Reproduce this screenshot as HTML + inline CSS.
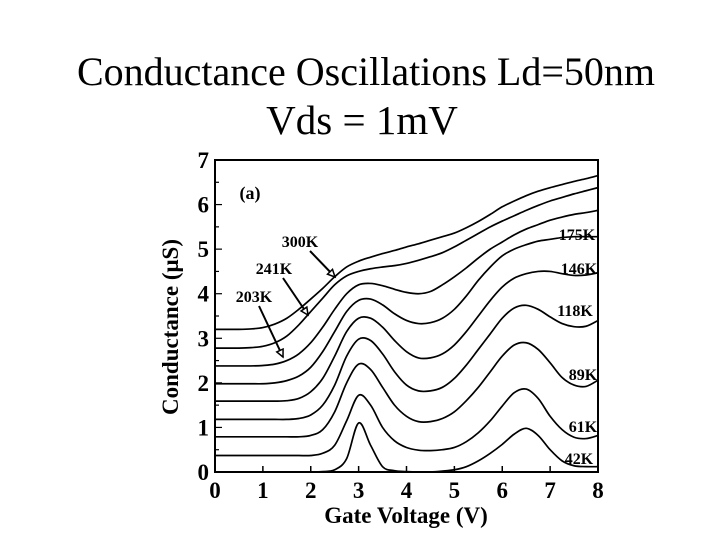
<!DOCTYPE html>
<html><head><meta charset="utf-8"><style>
body{margin:0;background:#fff;width:720px;height:540px;overflow:hidden}
svg text{font-family:"Liberation Serif",serif}
</style></head><body>
<svg id="c" width="720" height="540">
<text x="366" y="85" font-size="40" text-anchor="middle">Conductance Oscillations Ld=50nm</text>
<text x="362" y="134" font-size="41" text-anchor="middle">Vds = 1mV</text>
<g id="g"></g>
</svg>
<script>
const xs=[];for(let i=0;i<=32;i++)xs.push(i*0.25);
const s42=[0,0,0,0,0,0,0,0,0,0.01,0.05,0.3,1.1,0.6,0.12,0.03,0.01,0,0,0.02,0.05,0.12,0.25,0.42,0.62,0.85,0.98,0.82,0.5,0.25,0.14,0.12,0.12];
const s61=[0.37,0.37,0.37,0.37,0.37,0.37,0.37,0.37,0.37,0.42,0.6,1.15,1.72,1.5,1.0,0.7,0.55,0.49,0.48,0.5,0.55,0.68,0.88,1.15,1.48,1.78,1.86,1.65,1.25,0.95,0.78,0.75,0.82];
const s89=[0.79,0.79,0.79,0.79,0.79,0.79,0.79,0.79,0.82,0.95,1.35,2.0,2.42,2.3,1.9,1.5,1.25,1.13,1.13,1.2,1.35,1.6,1.9,2.25,2.6,2.85,2.9,2.75,2.45,2.12,1.95,1.92,2.06];
const s118=[1.18,1.18,1.18,1.18,1.18,1.18,1.18,1.2,1.28,1.5,1.95,2.6,2.98,2.95,2.65,2.25,1.95,1.82,1.82,1.9,2.1,2.4,2.75,3.1,3.45,3.68,3.74,3.65,3.48,3.33,3.26,3.27,3.4];
const s146=[1.59,1.59,1.59,1.59,1.59,1.59,1.6,1.65,1.8,2.1,2.6,3.15,3.45,3.45,3.25,2.95,2.7,2.56,2.56,2.65,2.85,3.15,3.5,3.85,4.15,4.35,4.45,4.5,4.5,4.45,4.41,4.42,4.47];
const s175=[1.98,1.98,1.98,1.98,1.98,2.0,2.05,2.15,2.35,2.7,3.15,3.6,3.85,3.88,3.75,3.55,3.4,3.33,3.35,3.45,3.65,3.95,4.3,4.6,4.85,5.0,5.1,5.18,5.22,5.26,5.28,5.28,5.28];
const s203=[2.38,2.38,2.38,2.38,2.39,2.42,2.5,2.65,2.9,3.25,3.65,4.0,4.2,4.23,4.18,4.1,4.03,4.0,4.05,4.2,4.38,4.58,4.8,5.0,5.16,5.32,5.45,5.55,5.65,5.72,5.78,5.82,5.87];
const s241=[2.78,2.78,2.78,2.79,2.82,2.9,3.05,3.3,3.6,3.9,4.2,4.4,4.5,4.56,4.6,4.63,4.68,4.75,4.83,4.92,5.05,5.2,5.35,5.5,5.63,5.75,5.87,5.98,6.08,6.16,6.24,6.31,6.38];
const s300=[3.2,3.2,3.2,3.21,3.24,3.32,3.45,3.65,3.88,4.12,4.38,4.6,4.73,4.82,4.9,4.97,5.05,5.12,5.2,5.28,5.36,5.48,5.62,5.78,5.95,6.08,6.2,6.3,6.38,6.45,6.52,6.58,6.65];
const series=[s42,s61,s89,s118,s146,s175,s203,s241,s300];
const seriesNames=['42K','61K','89K','118K','146K','175K','203K','241K','300K'];
const xTicks=[0,1,2,3,4,5,6,7,8];
const yTicks=[0,1,2,3,4,5,6,7];
const X0=215,X1=598,Y0=472,Y1=160;
const xp=v=>X0+(X1-X0)*v/8, yp=v=>Y0-(Y0-Y1)*v/7;
const g=document.getElementById('g'),NS='http://www.w3.org/2000/svg';
function mk(t,a,p){const e=document.createElementNS(NS,t);for(const k in a)e.setAttribute(k,a[k]);(p||g).appendChild(e);return e;}
const fr=mk('rect',{x:X0,y:Y1,width:X1-X0,height:Y0-Y1,fill:'none',stroke:'#000','stroke-width':2});


xTicks.forEach(t=>{
 const l=mk('line',{x1:xp(t),x2:xp(t),y1:Y0,y2:Y0-6,stroke:'#000','stroke-width':1.5});
 
 
 const tx=mk('text',{x:xp(t),y:498,'font-size':23,'font-weight':'bold','text-anchor':'middle'});tx.textContent=t;
 
 
});
for(let v=0;v<=7;v+=0.5){
 const l=mk('line',{x1:X0,x2:X0+(v%1?4:7),y1:yp(v),y2:yp(v),stroke:'#000','stroke-width':1.2});
 
 
}
yTicks.forEach(t=>{
 const tx=mk('text',{x:209,y:yp(t)+8,'font-size':23,'font-weight':'bold','text-anchor':'end'});tx.textContent=t;
 
 
});
series.forEach((s,k)=>{
 const P=s.map((v,i)=>[xp(xs[i]),yp(v)]);
 let d='M'+P[0][0]+','+P[0][1];
 for(let i=0;i<P.length-1;i++){const p0=P[Math.max(0,i-1)],p1=P[i],p2=P[i+1],p3=P[Math.min(P.length-1,i+2)];
  d+=` C${p1[0]+(p2[0]-p0[0])/6},${p1[1]+(p2[1]-p0[1])/6} ${p2[0]-(p3[0]-p1[0])/6},${p2[1]-(p3[1]-p1[1])/6} ${p2[0]},${p2[1]}`;}
 const p=mk('path',{d:d,fill:'none',stroke:'#000','stroke-width':1.7});
 
 
});
const labs=[['175K',577,240],['146K',579,274],['118K',575,316],['89K',583,380],['61K',583,432],['42K',579,464]];
labs.forEach(a=>{const t=mk('text',{x:a[1],y:a[2],'font-size':16,'font-weight':'bold','text-anchor':'middle'});t.textContent=a[0];
 
 });
const arr=[['300K',300,247,310,251,335,277],['241K',274,274,283,278,308,315],['203K',254,302,259,306,283,357]];
arr.forEach(a=>{const t=mk('text',{x:a[1],y:a[2],'font-size':16,'font-weight':'bold','text-anchor':'middle'});t.textContent=a[0];
 
 
 const l=mk('line',{x1:a[3],y1:a[4],x2:a[5],y2:a[6],stroke:'#000','stroke-width':2});
 
 
 const ang=Math.atan2(a[6]-a[4],a[5]-a[3]),L=8,w=0.45;
 const h=mk('polygon',{points:`${a[5]},${a[6]} ${a[5]-L*Math.cos(ang-w)},${a[6]-L*Math.sin(ang-w)} ${a[5]-L*Math.cos(ang+w)},${a[6]-L*Math.sin(ang+w)}`,fill:'#fff',stroke:'#000','stroke-width':1.5});
 
 
});
const ta=mk('text',{x:250,y:199,'font-size':18,'font-weight':'bold','text-anchor':'middle'});ta.textContent='(a)';


const xt=mk('text',{x:406,y:523,'font-size':23,'font-weight':'bold','text-anchor':'middle'});xt.textContent='Gate Voltage  (V)';


const yt=mk('text',{x:0,y:0,'font-size':23,'font-weight':'bold','text-anchor':'middle',transform:'translate(178,327) rotate(-90)'});yt.textContent='Conductance  (\u03bcS)';


</script>
</body></html>
